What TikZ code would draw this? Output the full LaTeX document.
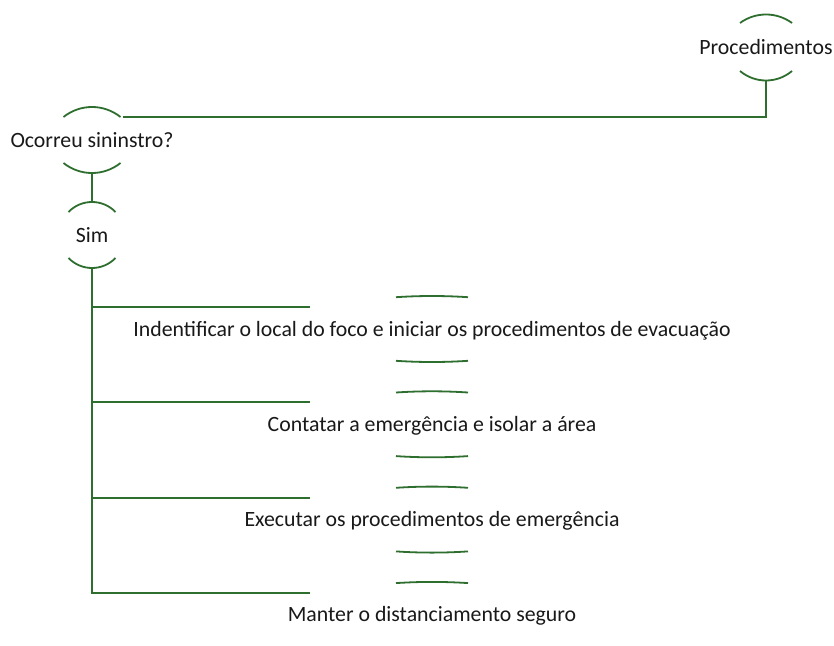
\documentclass[tikz,border=0pt]{standalone}
\usepackage{fontspec}
\setmainfont{Carlito}
\usetikzlibrary{calc}
\definecolor{mmgreen}{RGB}{46,110,46}
\definecolor{mmtext}{RGB}{25,25,25}
\tikzset{
  link/.style={draw=mmgreen,line width=1.8pt},
  topic/.style={anchor=base,inner sep=0pt,text=mmtext,font=\fontsize{21.8}{26}\selectfont},
  pics/topcap/.style args={#1/#2}{code={
    \pgfmathsetmacro\rr{(#1*#1+#2*#2)/(2*#2)}
    \pgfmathsetmacro\th{asin(#1/\rr)}
    \pgfmathsetmacro\kk{4/3*tan(\th/2)*\rr}
    \draw[link] (-#1,-40+#2) .. controls ({-#1+\kk*cos(\th)},{-40+#2-\kk*sin(\th)}) and ({#1-\kk*cos(\th)},{-40+#2-\kk*sin(\th)}) .. (#1,-40+#2);}},
  pics/botcap/.style args={#1/#2}{code={
    \pgfmathsetmacro\rr{(#1*#1+#2*#2)/(2*#2)}
    \pgfmathsetmacro\th{asin(#1/\rr)}
    \pgfmathsetmacro\kk{4/3*tan(\th/2)*\rr}
    \draw[link] (-#1,26-#2) .. controls ({-#1+\kk*cos(\th)},{26-#2+\kk*sin(\th)}) and ({#1-\kk*cos(\th)},{26-#2+\kk*sin(\th)}) .. (#1,26-#2);}},
}
\begin{document}
\begin{tikzpicture}[x=1pt,y=-1pt]
\fill[white] (0,0) rectangle (834,645);
\useasboundingbox (0,0) rectangle (834,645);

\node[topic] (proc) at (766,54.5) {Procedimentos};
\pic at (proc.base) {topcap=26/8.5};
\pic at (proc.base) {botcap=26/9.5};

\node[topic] (occ) at (92,147) {Ocorreu sininstro?};
\pic at (occ.base) {topcap=28.5/10};
\pic at (occ.base) {botcap=28.5/10};

\node[topic] (sim) at (92,242) {Sim};
\pic at (sim.base) {topcap=23.5/10};
\pic at (sim.base) {botcap=23.5/10};

\node[topic] (c1) at (432,336) {Indentificar o local do foco e iniciar os procedimentos de evacuação};
\pic at (c1.base) {topcap=36/1.2};
\pic at (c1.base) {botcap=36/1.2};
\node[topic] (c2) at (432,431.3) {Contatar a emergência e isolar a área};
\pic at (c2.base) {topcap=36/1.2};
\pic at (c2.base) {botcap=36/1.2};
\node[topic] (c3) at (432,526.6) {Executar os procedimentos de emergência};
\pic at (c3.base) {topcap=36/1.2};
\pic at (c3.base) {botcap=36/1.2};
\node[topic] (c4) at (432,621.9) {Manter o distanciamento seguro};
\pic at (c4.base) {topcap=36/1.2};

% connectors
\coordinate (procbot) at ($(proc.base)+(0,26)$);
\coordinate (occjoin) at ($(occ.base)+(31,-30)$);
\draw[link] (procbot) |- (occjoin);
\draw[link] ($(occ.base)+(0,26)$) -- ($(sim.base)+(0,-40)$);
\coordinate (simbot) at ($(sim.base)+(0,26)$);
\foreach \c in {c1,c2,c3,c4}{
  \draw[link] (simbot) |- ($(\c.base)+(-122,-29)$);
}
\end{tikzpicture}
\end{document}
